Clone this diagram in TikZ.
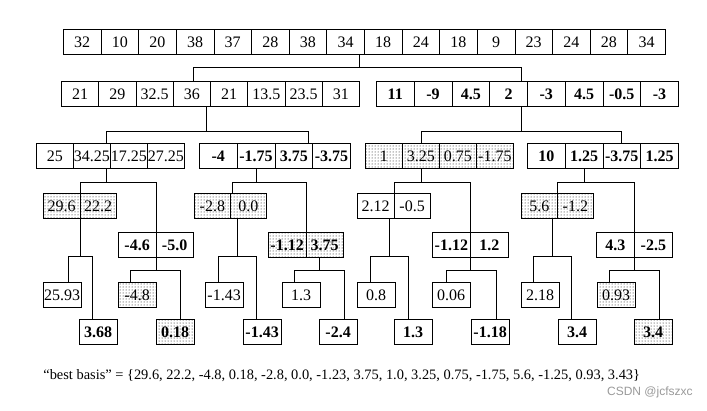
\documentclass[tikz,border=0pt]{standalone}
\usepackage{fontspec}
\setmainfont{Liberation Serif}
\setsansfont{Liberation Sans}
\usetikzlibrary{patterns}
\newcommand\cellsize{\fontsize{16}{19}\selectfont}

\begin{document}
\begin{tikzpicture}[x=1pt,y=-1pt,line width=0.8pt,
  cell/.style={draw,anchor=north west,inner sep=0pt,minimum width=#1,minimum height=25,font=\cellsize},
  bcell/.style={cell=#1,font=\cellsize\bfseries},
  dcell/.style={cell=#1,pattern=dots,pattern color=black},
  bdcell/.style={dcell=#1,font=\cellsize\bfseries}]
  \useasboundingbox (0,0) rectangle (707,410);

  % signal
  \foreach \v [count=\i] in {32,10,20,38,37,28,38,34,18,24,18,9,23,24,28,34}
    \node[cell=37.625] (t\i) at ({63+(\i-1)*37.625},29) {\v};

  % level 1
  \foreach \v [count=\i] in {21,29,32.5,36,21,13.5,23.5,31}
    \node[cell=37.25] (l\i) at ({61+(\i-1)*37.25},81) {\v};
  \foreach \v [count=\i] in {11,-9,4.5,2,-3,4.5,-0.5,-3}
    \node[bcell=37.75] (r\i) at ({376+(\i-1)*37.75},81) {\v};

  % level 2
  \foreach \v [count=\i] in {25,34.25,17.25,27.25}
    \node[cell=37] (a\i) at ({36+(\i-1)*37},143) {\v};
  \foreach \v [count=\i] in {-4,-1.75,3.75,-3.75}
    \node[bcell=37.75] (b\i) at ({199+(\i-1)*37.75},143) {\v};
  \foreach \v [count=\i] in {1,3.25,0.75,-1.75}
    \node[dcell=37] (c\i) at ({365+(\i-1)*37},143) {\v};
  \foreach \v [count=\i] in {10,1.25,-3.75,1.25}
    \node[bcell=37.75] (d\i) at ({527+(\i-1)*37.75},143) {\v};

  % level 3
  \foreach \v [count=\i] in {29.6,22.2}
    \node[dcell=36.5] (aa\i) at ({43+(\i-1)*36.5},193) {\v};
  \foreach \v [count=\i] in {-4.6,-5.0}
    \node[bcell=37.5] (ab\i) at ({118+(\i-1)*37.5},232) {\v};
  \foreach \v [count=\i] in {-2.8,0.0}
    \node[dcell=36] (ba\i) at ({194+(\i-1)*36},193) {\v};
  \foreach \v [count=\i] in {-1.12,3.75}
    \node[bdcell=37.5] (bb\i) at ({268+(\i-1)*37.5},232) {\v};
  \foreach \v [count=\i] in {2.12,-0.5}
    \node[cell=36.5] (ca\i) at ({357+(\i-1)*36.5},193) {\v};
  \foreach \v [count=\i] in {-1.12,1.2}
    \node[bcell=38] (cb\i) at ({432+(\i-1)*38},232) {\v};
  \foreach \v [count=\i] in {5.6,-1.2}
    \node[dcell=36] (da\i) at ({521+(\i-1)*36},193) {\v};
  \foreach \v [count=\i] in {4.3,-2.5}
    \node[bcell=38] (db\i) at ({596+(\i-1)*38},232) {\v};

  % level 4
  \node[cell=37.5] (p1) at (43,282) {25.93};
  \node[dcell=37.5] (p2) at (118,282) {-4.8};
  \node[cell=37.5] (p3) at (205,282) {-1.43};
  \node[cell=37.5] (p4) at (282,282) {1.3};
  \node[cell=37.5] (p5) at (357,282) {0.8};
  \node[cell=37.5] (p6) at (432,282) {0.06};
  \node[cell=37.5] (p7) at (521,282) {2.18};
  \node[dcell=37.5] (p8) at (597,282) {0.93};
  \node[bcell=37.5] (q1) at (79,319) {3.68};
  \node[bdcell=37.5] (q2) at (156,319) {0.18};
  \node[bcell=37.5] (q3) at (243,319) {-1.43};
  \node[bcell=37.5] (q4) at (319,319) {-2.4};
  \node[bcell=37.5] (q5) at (394,319) {1.3};
  \node[bcell=37.5] (q6) at (471,319) {-1.18};
  \node[bcell=37.5] (q7) at (558,319) {3.4};
  \node[bdcell=37.5] (q8) at (634,319) {3.4};

  % branches
  \draw ([xshift=-5]t8.south east) -- ++(0,13) coordinate (f0);
  \draw ([xshift=2]l4.north) |- (f0) -| ([xshift=13]r4.north);
  \draw ([xshift=-4]l4.south east) -- ++(0,25) coordinate (f1);
  \draw ([xshift=-4]a2.north east) |- (f1) -| ([xshift=-5]b3.north east);
  \draw ([xshift=13]r4.south) -- ++(0,25) coordinate (f2);
  \draw (c2.north) |- (f2) -| (d3.north);

  \draw ([xshift=-4]a2.south east) -- ++(0,14) coordinate (f3);
  \draw (aa1.north east) |- (f3) -| (ab1.north east);
  \draw (b2.south) -- ++(0,14) coordinate (f4);
  \draw ([xshift=2]ba1.north east) |- (f4) -| (bb1.north east);
  \draw (c2.south) -- ++(0,14) coordinate (f5);
  \draw (ca1.north east) |- (f5) -| (cb1.north east);
  \draw (d2.south) -- ++(0,14) coordinate (f6);
  \draw (da1.north east) |- (f6) -| (db1.north east);

  \draw (aa1.south east) -- ++(0,38) coordinate (g1);
  \draw ([xshift=6]p1.north) |- (g1) -| ([xshift=-6]q1.north);
  \draw ([xshift=7]ba1.south east) -- ++(0,38) coordinate (g2);
  \draw ([xshift=-6]p3.north) |- (g2) -| ([xshift=-6]q3.north);
  \draw ([xshift=-5]ca1.south east) -- ++(0,38) coordinate (g3);
  \draw ([xshift=-6]p5.north) |- (g3) -| ([xshift=-5]q5.north);
  \draw ([xshift=-5]da1.south east) -- ++(0,38) coordinate (g4);
  \draw ([xshift=-7]p7.north) |- (g4) -| ([xshift=-6]q7.north);
  \draw (ab1.south east) -- ++(0,13) coordinate (g5);
  \draw ([xshift=-7]p2.north) |- (g5) -| ([xshift=5]q2.north);
  \draw ([xshift=13.5]bb1.south east) -- ++(0,13) coordinate (g6);
  \draw ([xshift=-7]p4.north) |- (g6) -| ([xshift=6]q4.north);
  \draw (cb1.south east) -- ++(0,13) coordinate (g7);
  \draw ([xshift=-5]p6.north) |- (g7) -| ([xshift=6]q6.north);
  \draw (db1.south east) -- ++(0,13) coordinate (g8);
  \draw ([xshift=-7]p8.north) |- (g8) -| ([xshift=6]q8.north);

  % result
  \node[anchor=west,inner sep=0pt,font=\fontsize{14.4}{17}\selectfont] (basis) at (43,376)
    {“best basis” = \{29.6, 22.2, -4.8, 0.18, -2.8, 0.0, -1.23, 3.75, 1.0, 3.25, 0.75, -1.75, 5.6, -1.25, 0.93, 3.43\}};
  \node[anchor=east,inner sep=0pt,text=black!40,font=\fontsize{12}{14}\sffamily] (mark) at (693,392) {CSDN @jcfszxc};
\end{tikzpicture}
\end{document}
